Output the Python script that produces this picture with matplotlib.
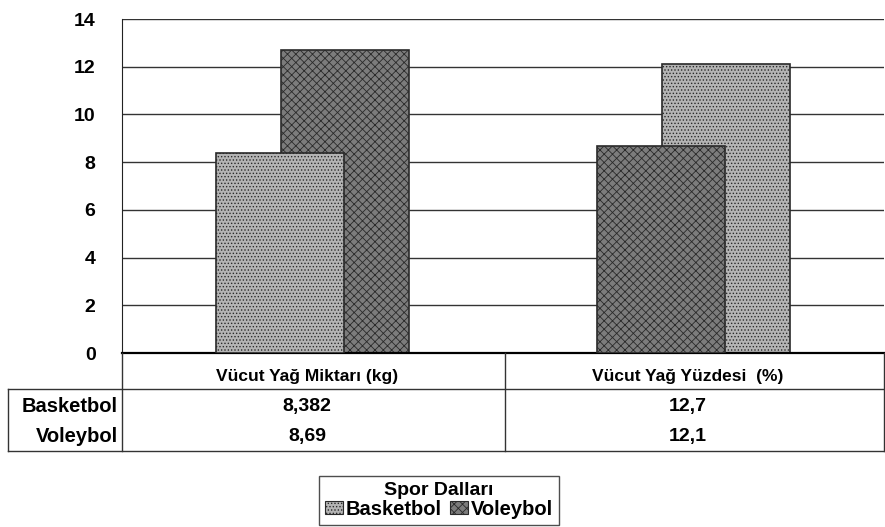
import matplotlib as mpl
mpl.use('Agg')
import matplotlib.pyplot as plt
from matplotlib.patches import Patch
from matplotlib.lines import Line2D

plt.rcParams['font.family'] = ['Liberation Sans', 'DejaVu Sans']
plt.rcParams['hatch.linewidth'] = 0.6

categories = ['Vücut Yağ Miktarı (kg)', 'Vücut Yağ Yüzdesi  (%)']
series = ['Basketbol', 'Voleybol']
basketbol = [8.382, 12.7]
voleybol = [8.69, 12.1]
basketbol_txt = ['8,382', '12,7']
voleybol_txt = ['8,69', '12,1']
yticks = [0, 2, 4, 6, 8, 10, 12, 14]

W, H = 885, 527
fig = plt.figure(figsize=(W / 100, H / 100), dpi=100)
ax = fig.add_axes([122 / W, 1 - 353 / H, 762 / W, 334 / H])

light = dict(facecolor='#b4b4b4', edgecolor='#2a2a2a', hatch='.....', lw=1.2)
dark = dict(facecolor='#7c7c7c', edgecolor='#2a2a2a', hatch='xxxx', lw=1.2)
width, off = 0.335, 0.085

# each group is one row of the table; front (left) bar drawn last
groups = [basketbol, voleybol]
styles = [(light, dark), (dark, light)]
for i, (vals, (s_front, s_back)) in enumerate(zip(groups, styles)):
    ax.bar(i + off, vals[1], width, zorder=2, **s_back)
    ax.bar(i - off, vals[0], width, zorder=3, **s_front)

ax.set_xlim(-0.5, 1.5)
ax.set_ylim(0, 14)
ax.set_yticks(yticks)
ax.set_yticklabels([str(t) for t in yticks], fontsize=14, fontweight='bold')
ax.tick_params(axis='y', length=0, pad=19)
ax.set_xticks([])
for t in yticks:
    ax.axhline(t, color='#333333', lw=1.0, zorder=1)
for s in ['top', 'right']:
    ax.spines[s].set_visible(False)
ax.spines['left'].set_color('#222222')
ax.spines['bottom'].set_linewidth(1.6)

# data table under the axis
def fx(px):
    return px / W

def fy(py):
    return 1 - py / H

lc = '#333333'
for y in [389, 451]:
    fig.add_artist(Line2D([fx(8), fx(884)], [fy(y), fy(y)], color=lc, lw=1.0))
for x in [8, 122, 505, 884]:
    top = 389 if x == 8 else 353
    fig.add_artist(Line2D([fx(x), fx(x)], [fy(top), fy(451)], color=lc, lw=1.0))

centers = [307, 688]
for cx, cat in zip(centers, categories):
    fig.text(fx(cx), fy(376), cat, ha='center', va='center', fontsize=12.5,
             fontweight='bold')
rows = [(407, 'Basketbol', basketbol_txt), (436, 'Voleybol', voleybol_txt)]
for ry, name, vals in rows:
    fig.text(fx(118), fy(ry), name, ha='right', va='center', fontsize=14.5, fontweight='bold')
    for cx, v in zip(centers, vals):
        fig.text(fx(cx), fy(ry), v, ha='center', va='center', fontsize=14, fontweight='bold')

handles = [Patch(**light), Patch(**dark)]
for h in handles:
    h.set_linewidth(0.8)
leg = fig.legend(handles, series, ncol=2, loc='lower center',
                 bbox_to_anchor=(fx(439), fy(525)), title='Spor Dalları',
                 prop={'weight': 'bold', 'size': 14.5},
                 title_fontproperties={'weight': 'bold', 'size': 14},
                 frameon=True, fancybox=False, edgecolor='#222222',
                 handlelength=0.9, handleheight=0.6, handletextpad=0.15,
                 columnspacing=0.4, borderpad=0.3, labelspacing=0.05,
                 borderaxespad=0)
leg.get_frame().set_linewidth(1.0)

fig.savefig('out.png', dpi=100)
